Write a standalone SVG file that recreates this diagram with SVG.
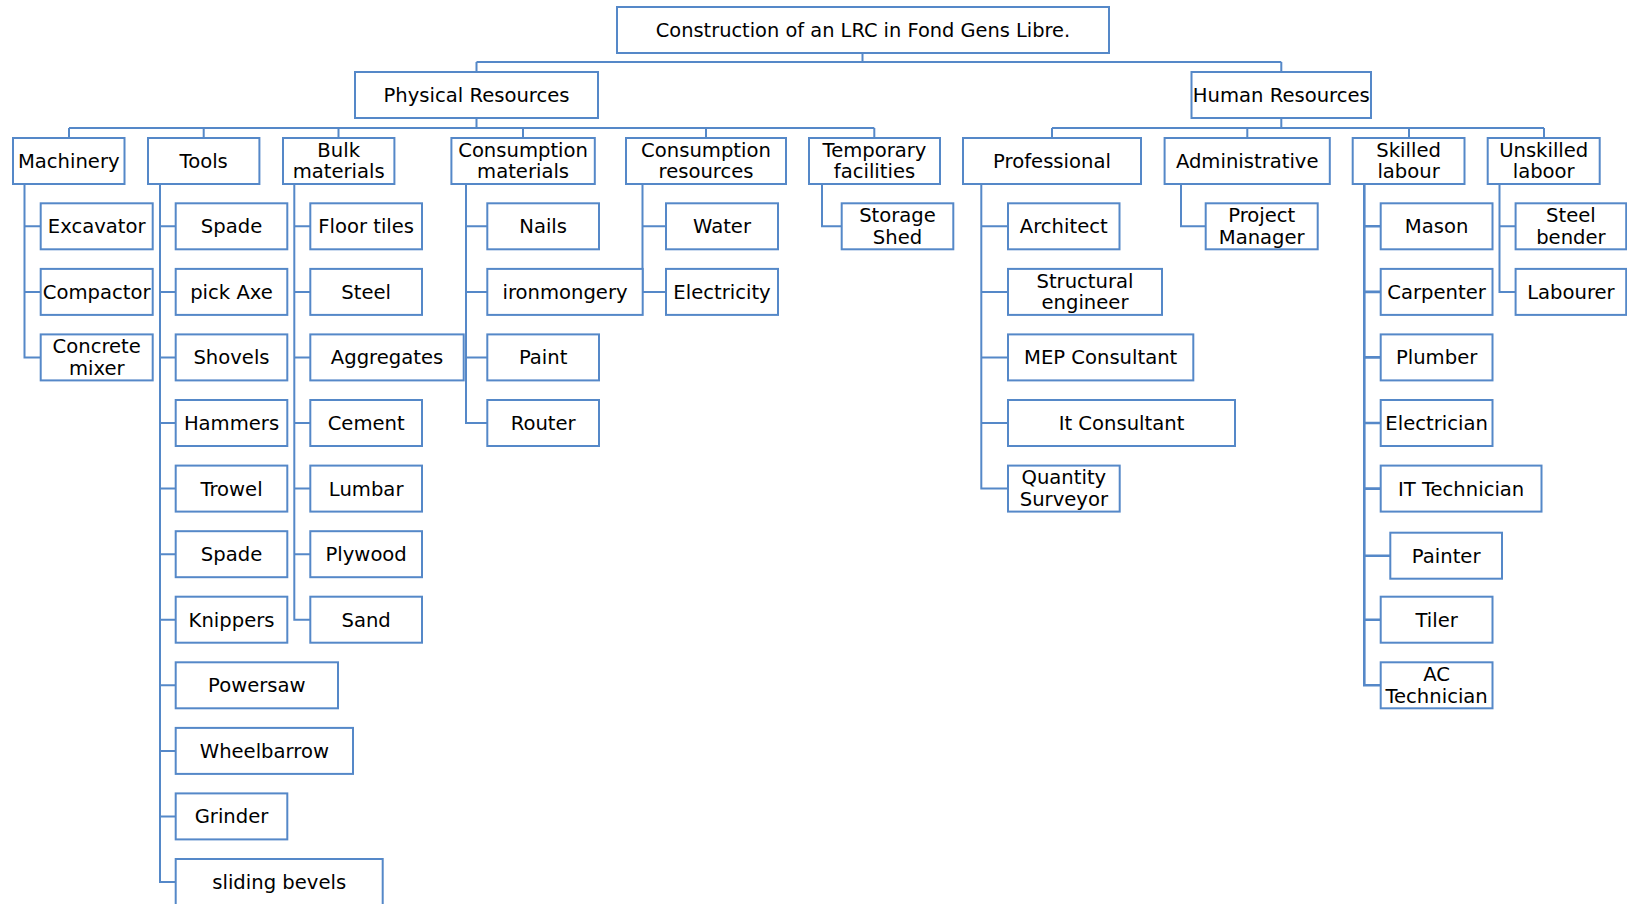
<svg xmlns="http://www.w3.org/2000/svg" width="1627" height="904" viewBox="0 0 1627 904">
  <style>
    .box rect { fill: #ffffff; stroke: #5588C8; stroke-width: 2; }
    .box text { font-family: "DejaVu Sans", Verdana, sans-serif; font-size: 19.6px; fill: #000000; text-anchor: middle; }
    .root text { font-size: 19.4px; }
    .wire { fill: none; stroke: #5588C8; stroke-width: 2; }
    .wire .thick { stroke-width: 2.6; }
  </style>
  <rect x="0" y="0" width="1627" height="904" fill="#ffffff"/>

  <!-- connectors -->
  <g id="connectors" class="wire">
    <!-- root to the two resource branches -->
    <path d="M862.5 53 V62 M476.5 62 H1281.3 M476.5 62 V72 M1281.3 62 V72"/>
    <!-- physical resources bus -->
    <path d="M476.5 118 V128 M69 128 H874.3 M69 128 V138 M203.7 128 V138 M338.5 128 V138 M523 128 V138 M706 128 V138 M874.3 128 V138"/>
    <!-- human resources bus -->
    <path d="M1281.3 118 V128 M1052 128 H1544 M1052 128 V138 M1247.3 128 V138 M1409 128 V138 M1544 128 V138"/>
    <!-- machinery -->
    <path d="M24.5 184 V357.4 H40.7 M24.5 226.3 H40.7 M24.5 291.9 H40.7"/>
    <!-- tools -->
    <path d="M160 184 V882 H175.7 M160 226.3 H175.7 M160 291.9 H175.7 M160 357.4 H175.7 M160 423 H175.7 M160 488.6 H175.7 M160 554.2 H175.7 M160 619.7 H175.7 M160 685.3 H175.7 M160 750.9 H175.7 M160 816.4 H175.7"/>
    <!-- bulk materials -->
    <path d="M294.3 184 V619.7 H310.3 M294.3 226.3 H310.3 M294.3 291.9 H310.3 M294.3 357.4 H310.3 M294.3 423 H310.3 M294.3 488.6 H310.3 M294.3 554.2 H310.3"/>
    <!-- consumption materials -->
    <path d="M466 184 V423 H487.3 M466 226.3 H487.3 M466 291.9 H487.3 M466 357.4 H487.3"/>
    <!-- consumption resources -->
    <path d="M642.5 184 V291.9 H666 M642.5 226.3 H666"/>
    <!-- temporary facilities -->
    <path d="M822 184 V226.3 H841.7"/>
    <!-- professional -->
    <path d="M981.3 184 V488.6 H1008 M981.3 226.3 H1008 M981.3 291.9 H1008 M981.3 357.4 H1008 M981.3 423 H1008"/>
    <!-- administrative -->
    <path d="M1181 184 V226.3 H1205.7"/>
    <!-- skilled labour -->
    <path class="thick" d="M1364.3 184 V685.3 H1380.7 M1364.3 226.3 H1380.7 M1364.3 291.9 H1380.7 M1364.3 357.4 H1380.7 M1364.3 423 H1380.7 M1364.3 488.6 H1380.7 M1364.3 555.7 H1390.3 M1364.3 619.7 H1380.7"/>
    <!-- unskilled laboor -->
    <path d="M1499.5 184 V291.9 H1515.6 M1499.5 226.3 H1515.6"/>
  </g>

  <!-- top levels -->
  <g id="root" class="box root"><rect x="617" y="7" width="492" height="46"/><text x="863" y="37">Construction of an LRC in Fond Gens Libre.</text></g>
  <g id="physical-resources" class="box"><rect x="355" y="72" width="243" height="46"/><text x="476.5" y="102">Physical Resources</text></g>
  <g id="human-resources" class="box"><rect x="1191.5" y="72" width="179.5" height="46"/><text x="1281.3" y="102">Human Resources</text></g>

  <!-- category row -->
  <g id="machinery" class="box"><rect x="13" y="138" width="111.5" height="46"/><text x="68.75" y="168">Machinery</text></g>
  <g id="tools" class="box"><rect x="148" y="138" width="111.4" height="46"/><text x="203.7" y="168">Tools</text></g>
  <g id="bulk-materials" class="box"><rect x="283" y="138" width="111.4" height="46"/><text x="338.7" y="156.7">Bulk</text><text x="338.7" y="178.2">materials</text></g>
  <g id="consumption-materials" class="box"><rect x="451.4" y="138" width="143.4" height="46"/><text x="523.1" y="156.7">Consumption</text><text x="523.1" y="178.2">materials</text></g>
  <g id="consumption-resources" class="box"><rect x="626" y="138" width="160" height="46"/><text x="706" y="156.7">Consumption</text><text x="706" y="178.2">resources</text></g>
  <g id="temporary-facilities" class="box"><rect x="809" y="138" width="131" height="46"/><text x="874.5" y="156.7">Temporary</text><text x="874.5" y="178.2">facilities</text></g>
  <g id="professional" class="box"><rect x="963" y="138" width="178" height="46"/><text x="1052" y="168">Professional</text></g>
  <g id="administrative" class="box"><rect x="1164.6" y="138" width="165.2" height="46"/><text x="1247.2" y="168">Administrative</text></g>
  <g id="skilled-labour" class="box"><rect x="1352.7" y="138" width="111.8" height="46"/><text x="1408.6" y="156.7">Skilled</text><text x="1408.6" y="178.2">labour</text></g>
  <g id="unskilled-laboor" class="box"><rect x="1487.7" y="138" width="112" height="46"/><text x="1543.7" y="156.7">Unskilled</text><text x="1543.7" y="178.2">laboor</text></g>

  <!-- machinery items -->
  <g id="excavator" class="box"><rect x="40.7" y="203.3" width="112" height="46"/><text x="96.7" y="233.3">Excavator</text></g>
  <g id="compactor" class="box"><rect x="40.7" y="268.9" width="112" height="46"/><text x="96.7" y="298.9">Compactor</text></g>
  <g id="concrete-mixer" class="box"><rect x="40.7" y="334.4" width="112" height="46"/><text x="96.7" y="353.1">Concrete</text><text x="96.7" y="374.6">mixer</text></g>

  <!-- tool items -->
  <g id="spade-1" class="box"><rect x="175.7" y="203.3" width="111.6" height="46"/><text x="231.5" y="233.3">Spade</text></g>
  <g id="pick-axe" class="box"><rect x="175.7" y="268.9" width="111.6" height="46"/><text x="231.5" y="298.9">pick Axe</text></g>
  <g id="shovels" class="box"><rect x="175.7" y="334.4" width="111.6" height="46"/><text x="231.5" y="364.4">Shovels</text></g>
  <g id="hammers" class="box"><rect x="175.7" y="400" width="111.6" height="46"/><text x="231.5" y="430">Hammers</text></g>
  <g id="trowel" class="box"><rect x="175.7" y="465.6" width="111.6" height="46"/><text x="231.5" y="495.6">Trowel</text></g>
  <g id="spade-2" class="box"><rect x="175.7" y="531.2" width="111.6" height="46"/><text x="231.5" y="561.2">Spade</text></g>
  <g id="knippers" class="box"><rect x="175.7" y="596.7" width="111.6" height="46"/><text x="231.5" y="626.7">Knippers</text></g>
  <g id="powersaw" class="box"><rect x="175.7" y="662.3" width="162.3" height="46"/><text x="256.85" y="692.3">Powersaw</text></g>
  <g id="wheelbarrow" class="box"><rect x="175.7" y="727.9" width="177.3" height="46"/><text x="264.35" y="757.9">Wheelbarrow</text></g>
  <g id="grinder" class="box"><rect x="175.7" y="793.4" width="111.6" height="46"/><text x="231.5" y="823.4">Grinder</text></g>
  <g id="sliding-bevels" class="box"><rect x="175.7" y="859" width="207" height="60"/><text x="279.2" y="889">sliding bevels</text></g>

  <!-- bulk material items -->
  <g id="floor-tiles" class="box"><rect x="310.3" y="203.3" width="111.7" height="46"/><text x="366.15" y="233.3">Floor tiles</text></g>
  <g id="steel" class="box"><rect x="310.3" y="268.9" width="111.7" height="46"/><text x="366.15" y="298.9">Steel</text></g>
  <g id="aggregates" class="box"><rect x="310.3" y="334.4" width="153.4" height="46"/><text x="387" y="364.4">Aggregates</text></g>
  <g id="cement" class="box"><rect x="310.3" y="400" width="111.7" height="46"/><text x="366.15" y="430">Cement</text></g>
  <g id="lumbar" class="box"><rect x="310.3" y="465.6" width="111.7" height="46"/><text x="366.15" y="495.6">Lumbar</text></g>
  <g id="plywood" class="box"><rect x="310.3" y="531.2" width="111.7" height="46"/><text x="366.15" y="561.2">Plywood</text></g>
  <g id="sand" class="box"><rect x="310.3" y="596.7" width="111.7" height="46"/><text x="366.15" y="626.7">Sand</text></g>

  <!-- consumption material items -->
  <g id="nails" class="box"><rect x="487.3" y="203.3" width="111.7" height="46"/><text x="543.15" y="233.3">Nails</text></g>
  <g id="ironmongery" class="box"><rect x="487.3" y="268.9" width="155.4" height="46"/><text x="565" y="298.9">ironmongery</text></g>
  <g id="paint" class="box"><rect x="487.3" y="334.4" width="111.7" height="46"/><text x="543.15" y="364.4">Paint</text></g>
  <g id="router" class="box"><rect x="487.3" y="400" width="111.7" height="46"/><text x="543.15" y="430">Router</text></g>

  <!-- consumption resource items -->
  <g id="water" class="box"><rect x="666" y="203.3" width="112" height="46"/><text x="722" y="233.3">Water</text></g>
  <g id="electricity" class="box"><rect x="666" y="268.9" width="112" height="46"/><text x="722" y="298.9">Electricity</text></g>

  <!-- temporary facility items -->
  <g id="storage-shed" class="box"><rect x="841.7" y="203.3" width="111.6" height="46"/><text x="897.5" y="222">Storage</text><text x="897.5" y="243.5">Shed</text></g>

  <!-- professional items -->
  <g id="architect" class="box"><rect x="1008" y="203.3" width="111.5" height="46"/><text x="1063.75" y="233.3">Architect</text></g>
  <g id="structural-engineer" class="box"><rect x="1008" y="268.9" width="154" height="46"/><text x="1085" y="287.6">Structural</text><text x="1085" y="309.1">engineer</text></g>
  <g id="mep-consultant" class="box"><rect x="1008" y="334.4" width="185.3" height="46"/><text x="1100.65" y="364.4">MEP Consultant</text></g>
  <g id="it-consultant" class="box"><rect x="1008" y="400" width="227" height="46"/><text x="1121.5" y="430">It Consultant</text></g>
  <g id="quantity-surveyor" class="box"><rect x="1008" y="465.6" width="111.7" height="46"/><text x="1063.85" y="484.3">Quantity</text><text x="1063.85" y="505.8">Surveyor</text></g>

  <!-- administrative items -->
  <g id="project-manager" class="box"><rect x="1205.7" y="203.3" width="112" height="46"/><text x="1261.7" y="222">Project</text><text x="1261.7" y="243.5">Manager</text></g>

  <!-- skilled labour items -->
  <g id="mason" class="box"><rect x="1380.7" y="203.3" width="111.8" height="46"/><text x="1436.6" y="233.3">Mason</text></g>
  <g id="carpenter" class="box"><rect x="1380.7" y="268.9" width="111.8" height="46"/><text x="1436.6" y="298.9">Carpenter</text></g>
  <g id="plumber" class="box"><rect x="1380.7" y="334.4" width="111.8" height="46"/><text x="1436.6" y="364.4">Plumber</text></g>
  <g id="electrician" class="box"><rect x="1380.7" y="400" width="111.8" height="46"/><text x="1436.6" y="430">Electrician</text></g>
  <g id="it-technician" class="box"><rect x="1380.7" y="465.6" width="160.8" height="46"/><text x="1461.1" y="495.6">IT Technician</text></g>
  <g id="painter" class="box"><rect x="1390.3" y="532.7" width="111.7" height="46"/><text x="1446.15" y="562.7">Painter</text></g>
  <g id="tiler" class="box"><rect x="1380.7" y="596.7" width="111.8" height="46"/><text x="1436.6" y="626.7">Tiler</text></g>
  <g id="ac-technician" class="box"><rect x="1380.7" y="662.3" width="111.8" height="46"/><text x="1436.6" y="681">AC</text><text x="1436.6" y="702.5">Technician</text></g>

  <!-- unskilled items -->
  <g id="steel-bender" class="box"><rect x="1515.6" y="203.3" width="110.6" height="46"/><text x="1570.9" y="222">Steel</text><text x="1570.9" y="243.5">bender</text></g>
  <g id="labourer" class="box"><rect x="1515.6" y="268.9" width="110.6" height="46"/><text x="1570.9" y="298.9">Labourer</text></g>
</svg>
